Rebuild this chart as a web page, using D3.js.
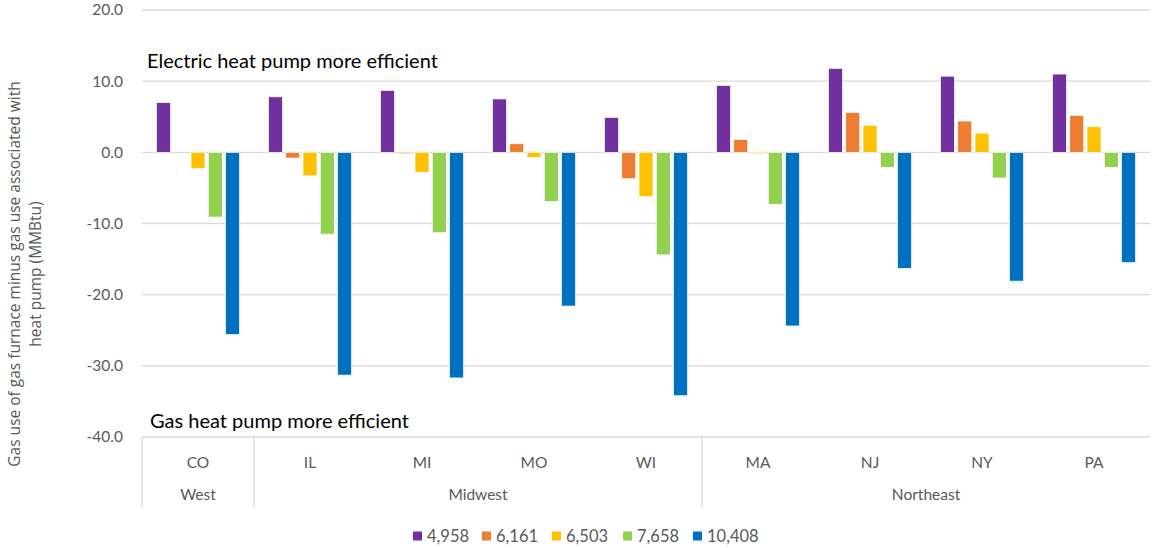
<!DOCTYPE html>
<html>
<head>
<meta charset="utf-8">
<script src="https://cdn.jsdelivr.net/npm/d3@7"></script>
<style>
  body { margin: 0; background: #fff; }
  text { font-family: Lato, "Liberation Sans", sans-serif; }
</style>
</head>
<body>
<div id="chart"></div>
<script>
// chart data
const states = ["CO", "IL", "MI", "MO", "WI", "MA", "NJ", "NY", "PA"];
const regions = [
  { name: "West", states: ["CO"] },
  { name: "Midwest", states: ["IL", "MI", "MO", "WI"] },
  { name: "Northeast", states: ["MA", "NJ", "NY", "PA"] }
];
const seriesNames = ["4,958", "6,161", "6,503", "7,658", "10,408"];
const s4958 = [7.0, 7.8, 8.7, 7.5, 4.9, 9.4, 11.8, 10.7, 11.0];
const s6161 = [0.0, -0.8, -0.2, 1.2, -3.7, 1.8, 5.6, 4.4, 5.2];
const s6503 = [-2.3, -3.3, -2.8, -0.7, -6.2, -0.2, 3.8, 2.7, 3.6];
const s7658 = [-9.1, -11.5, -11.3, -6.9, -14.4, -7.3, -2.1, -3.6, -2.1];
const s10408 = [-25.6, -31.3, -31.7, -21.6, -34.2, -24.4, -16.3, -18.1, -15.5];
const yTicks = [20, 10, 0, -10, -20, -30, -40];

const seriesValues = [s4958, s6161, s6503, s7658, s10408];
const colors = ["#7030A0", "#ED7D31", "#FFC000", "#92D050", "#0070C0"];

const width = 1153, height = 548;
const plot = { left: 142, right: 1150, top: 10, bottom: 437 };

const svg = d3.select("#chart").append("svg")
  .attr("width", width).attr("height", height);

const y = d3.scaleLinear().domain([-40, 20]).range([plot.bottom, plot.top]);
const x0 = d3.scaleBand().domain(states).range([plot.left, plot.right]);
const x1 = d3.scaleBand().domain(seriesNames)
  .range([14.5, x0.bandwidth() - 14.5]).paddingInner(0.19);

const fmt = d3.formatLocale({ decimal: ".", thousands: ",", grouping: [3], currency: ["", ""], minus: "-" }).format(".1f");

// gridlines
svg.append("g").selectAll("line").data(yTicks).enter().append("line")
  .attr("x1", plot.left).attr("x2", plot.right)
  .attr("y1", d => y(d)).attr("y2", d => y(d))
  .attr("stroke", "#d9d9d9").attr("stroke-width", 1.3);

// y tick labels
svg.append("g").selectAll("text").data(yTicks).enter().append("text")
  .attr("x", 123).attr("y", d => y(d)).attr("dy", "0.35em")
  .attr("text-anchor", "end").attr("fill", "#595959")
  .style("font-size", "15.5px")
  .text(d => fmt(d));

// bars
const groups = svg.append("g").selectAll("g").data(states).enter().append("g")
  .attr("transform", d => `translate(${x0(d)},0)`);

groups.selectAll("rect")
  .data((d, i) => seriesNames.map((s, j) => ({ key: s, value: seriesValues[j][i], c: colors[j] })))
  .enter().append("rect")
  .attr("x", d => x1(d.key))
  .attr("width", x1.bandwidth())
  .attr("y", d => y(Math.max(0, d.value)))
  .attr("height", d => Math.abs(y(d.value) - y(0)))
  .attr("fill", d => d.c)
  .attr("stroke", "#fff").attr("stroke-width", 0.7);

// category axis: dividers
const divX = [plot.left];
regions.forEach((r, i) => { if (i > 0) divX.push(x0(r.states[0])); });
svg.append("g").selectAll("line").data(divX).enter().append("line")
  .attr("x1", d => d).attr("x2", d => d)
  .attr("y1", plot.bottom).attr("y2", 508)
  .attr("stroke", "#d9d9d9").attr("stroke-width", 1.3);

svg.append("g").selectAll("text").data(states).enter().append("text")
  .attr("x", d => x0(d) + x0.bandwidth() / 2).attr("y", 463).attr("dy", "0.35em")
  .attr("text-anchor", "middle").attr("fill", "#595959")
  .style("font-size", "15.5px")
  .text(d => d);

svg.append("g").selectAll("text").data(regions).enter().append("text")
  .attr("x", d => {
    const a = x0(d.states[0]);
    const b = x0(d.states[d.states.length - 1]) + x0.bandwidth();
    return (a + b) / 2;
  })
  .attr("y", 495).attr("dy", "0.35em")
  .attr("text-anchor", "middle").attr("fill", "#595959")
  .style("font-size", "15.5px")
  .text(d => d.name);

// annotations
svg.append("text").attr("x", 147).attr("y", 68)
  .attr("fill", "#000").style("font-size", "20px")
  .text("Electric heat pump more efficient");
svg.append("text").attr("x", 150).attr("y", 428)
  .attr("fill", "#000").style("font-size", "20px")
  .text("Gas heat pump more efficient");

// y axis title
const yt = svg.append("text")
  .attr("transform", "translate(20,274) rotate(-90)")
  .attr("text-anchor", "middle").attr("fill", "#595959")
  .style("font-family", "'Open Sans', sans-serif")
  .style("font-size", "15.5px");
yt.append("tspan").attr("x", 0).attr("dy", 0)
  .text("Gas use of gas furnace minus gas use associated with");
yt.append("tspan").attr("x", 0).attr("dy", 21)
  .text("heat pump (MMBtu)");

// legend
const legX = [413, 482, 552, 623, 693];
const leg = svg.append("g").selectAll("g").data(seriesNames).enter().append("g")
  .attr("transform", (d, i) => `translate(${legX[i]},536)`);
leg.append("rect").attr("x", 0).attr("y", -4.5).attr("width", 9).attr("height", 9)
  .attr("fill", (d, i) => colors[i]);
leg.append("text").attr("x", 14).attr("y", 0).attr("dy", "0.35em")
  .attr("fill", "#595959").style("font-size", "16.5px")
  .text(d => d);
</script>
</body>
</html>
